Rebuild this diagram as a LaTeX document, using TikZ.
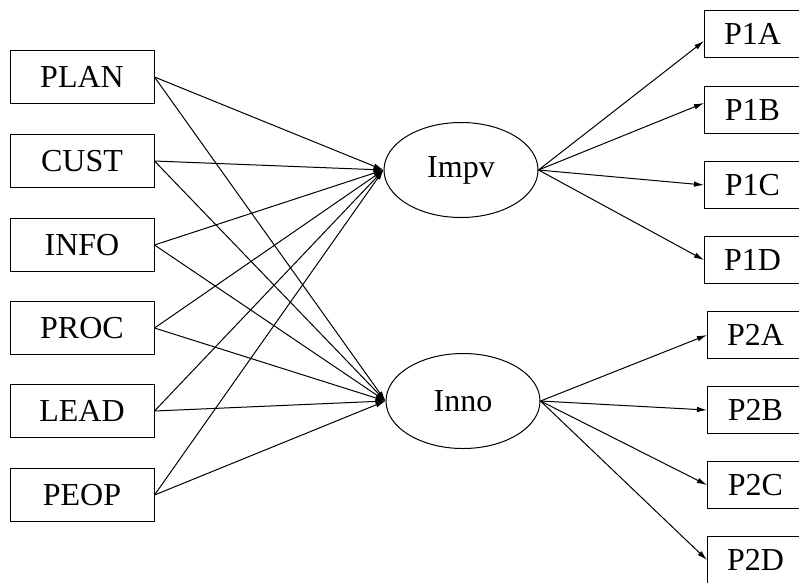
\documentclass[tikz,border=0pt]{standalone}
\usepackage{fontspec}
\setmainfont{Liberation Serif}
\usetikzlibrary{arrows.meta,shapes.geometric}
\tikzset{
  varbox/.style={draw,rectangle,minimum width=144pt,minimum height=53pt,inner sep=0pt},
  indbox/.style={draw,rectangle,minimum width=104pt,minimum height=47pt,inner sep=0pt,text width=96pt,align=center},
  latent/.style={draw,ellipse,minimum width=154pt,minimum height=95pt,inner sep=0pt},
  link/.style={-{Latex[length=10pt,width=5.5pt]}}
}

\begin{document}
\begin{tikzpicture}[x=1pt,y=-1pt,line width=1pt,font=\fontsize{32}{32}\selectfont]
\clip (0,0) rectangle (799,582);
% exogenous factors
\node[varbox] (PLAN) at (82,77){PLAN};
\node[varbox] (CUST) at (82,161){CUST};
\node[varbox] (INFO) at (82,245){INFO};
\node[varbox] (PROC) at (82,328){PROC};
\node[varbox] (LEAD) at (82,411){LEAD};
\node[varbox] (PEOP) at (82,495){PEOP};
% latent constructs
\node[latent] (Impv) at (461,170){Impv};
\node[latent] (Inno) at (463,401){Inno};
% indicators
\node[indbox,anchor=west] (P1A) at (704,34){\hspace*{-8pt}P1A};
\node[indbox,anchor=west] (P1B) at (704,110){\hspace*{-8pt}P1B};
\node[indbox,anchor=west] (P1C) at (704,185){\hspace*{-8pt}P1C};
\node[indbox,anchor=west] (P1D) at (704,260){\hspace*{-8pt}P1D};
\node[indbox,anchor=west] (P2A) at (707,335){\hspace*{-8pt}P2A};
\node[indbox,anchor=west] (P2B) at (707,410){\hspace*{-8pt}P2B};
\node[indbox,anchor=west] (P2C) at (707,485){\hspace*{-8pt}P2C};
\node[indbox,anchor=west] (P2D) at (707,560){\hspace*{-8pt}P2D};
\foreach \src in {PLAN,CUST,INFO,PROC,LEAD,PEOP}{
  \draw[link] (\src.east) -- (Impv.west);
  \draw[link] (\src.east) -- (Inno.west);
}
\draw[link] (Impv.east) -- ([yshift=-7pt]P1A.west);
\draw[link] (Impv.east) -- ([yshift=7pt]P1B.west);
\draw[link] (Impv.east) -- (P1C.west);
\draw[link] (Impv.east) -- (P1D.west);
\foreach \dst in {P2A,P2B,P2C,P2D}
  \draw[link] (Inno.east) -- (\dst.west);
\end{tikzpicture}
\end{document}
